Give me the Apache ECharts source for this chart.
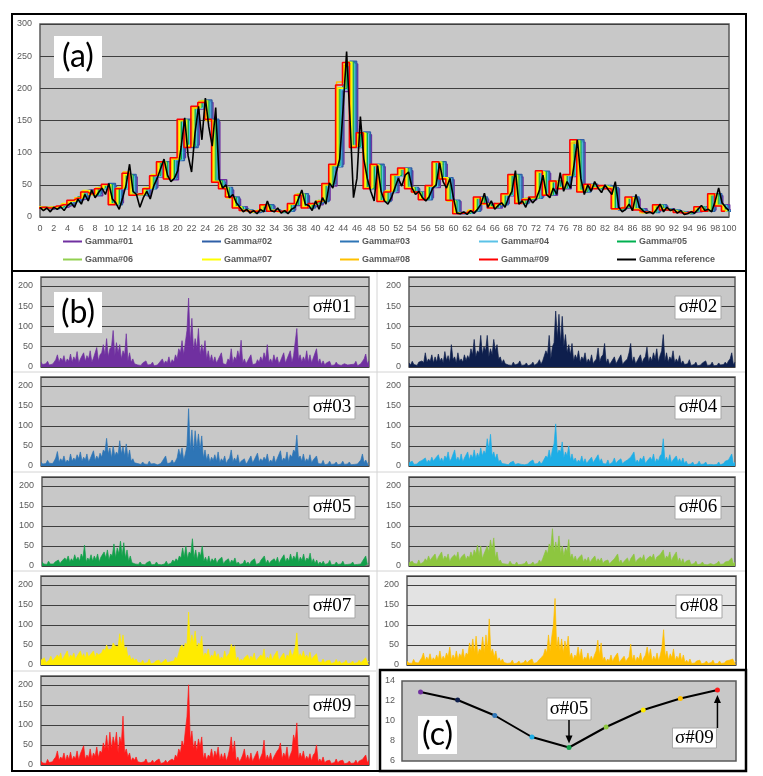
<!DOCTYPE html>
<html>
<head>
<meta charset="utf-8">
<script src="https://cdn.jsdelivr.net/npm/echarts@6/dist/echarts.min.js"></script>
<style>
  html, body { margin: 0; padding: 0; background: #fff; }
  #chart { width: 763px; height: 776px; }
</style>
</head>
<body>
<div id="chart"></div>
<script>
// ---- panel (a): gamma curves, x = 0..100 ----
const refStep = 0.5;
const gammaRef = [
  15,10,14,8,15,12,16,10,18,22, 15,28,20,35,25,42,30,38,45,35,
  52,28,22,12,30,50,82,40,35,15, 30,40,28,48,60,75,90,65,55,60,
  72,110,154,95,70,130,172,120,185,140, 110,170,60,45,50,30,35,22,15,8,
  12,6,10,5,12,8,25,10,8,14, 6,10,5,12,15,28,42,20,18,10,
  25,12,30,20,53,45,70,90,170,257, 150,30,60,156,90,60,40,25,80,40,
  25,20,30,45,60,48,65,70,45,35, 40,30,25,32,45,50,84,55,45,60,
  30,6,5,8,4,10,6,12,20,37, 15,25,12,18,22,15,30,40,72,20,
  25,15,30,22,28,42,65,35,30,45, 35,69,40,55,45,80,120,60,35,50,
  40,55,45,38,50,42,35,55,15,8, 12,20,10,35,15,10,6,8,5,12,
  20,8,15,10,12,6,10,4,5,8, 6,12,18,10,12,8,25,45,22,15,
  10
];
const gammaNames = ['Gamma#01','Gamma#02','Gamma#03','Gamma#04','Gamma#05',
                    'Gamma#06','Gamma#07','Gamma#08','Gamma#09'];
const refName = 'Gamma reference';
// lag of each gamma curve against the reference (x units)
const gammaLag = [0.6, 0.45, 0.3, 0.15, 0, -0.15, -0.3, -0.45, -0.6];

const gamma01 = [
  14,12,16,15,18,26,28,42,33,46, 48,22,44,62,36,33,46,62,82,58,
  92,148,112,168,178,148,58,42,28,16, 9,8,11,17,9,8,11,18,33,16,
  19,26,48,82,195,238,112,128,46,78, 26,38,66,72,44,36,30,46,82,58,
  24,7,6,11,28,21,14,21,33,62, 23,27,31,68,34,56,44,63,116,42,
  48,46,47,44,13,14,28,13,7,9, 17,13,9,8,7,8,14,11,33,19, 11
];
const gamma02 = [
  16,13,14,17,19,24,31,38,36,44, 52,19,46,66,34,36,44,66,86,61,
  88,152,108,172,182,152,54,46,31,14, 11,7,9,19,11,7,9,21,36,14,
  21,24,52,78,205,242,108,132,44,82, 24,41,64,76,46,39,27,49,86,61,
  26,5,7,9,31,19,16,19,36,66, 21,29,29,71,36,54,46,66,120,39,
  51,44,49,46,11,16,31,11,8,7, 19,11,11,7,5,10,16,9,36,17, 9
];
const gamma03 = [
  15,15,13,16,21,25,29,41,34,45, 51,21,45,64,35,34,45,64,84,59,
  91,150,110,170,180,151,56,44,30,15, 10,9,10,18,10,9,10,19,34,15,
  20,25,50,80,200,240,110,129,45,80, 25,40,65,74,45,37,28,48,84,59,
  25,6,6,10,29,20,15,20,35,64, 22,28,30,70,35,55,45,64,118,40,
  50,45,48,45,12,15,30,12,7,8, 18,12,10,8,6,9,15,10,35,18, 10
];
const gamma04 = [
  14,13,15,15,20,24,30,39,35,44, 49,20,44,63,35,35,44,63,84,60,
  89,149,111,169,179,149,55,45,29,15, 10,8,10,17,10,8,10,20,34,15,
  20,24,49,79,198,238,109,129,45,79, 25,39,64,74,45,38,28,47,84,60,
  25,6,6,10,30,20,15,20,34,64, 22,28,30,69,35,54,45,64,117,40,
  49,45,48,45,12,15,29,12,7,8, 18,12,10,8,6,9,15,10,34,18, 10
];
const gamma05 = [
  15,14,16,16,20,25,31,40,35,46, 50,21,45,65,35,36,45,65,85,61,
  90,150,110,171,180,150,56,45,30,15, 10,8,10,18,10,8,10,20,35,15,
  21,25,50,80,200,240,110,130,45,80, 25,40,65,75,45,38,28,48,85,60,
  25,6,6,10,30,20,15,20,35,65, 22,28,30,70,35,55,45,65,118,40,
  50,45,48,45,12,15,30,12,7,8, 18,12,10,8,6,9,15,10,35,18, 10
];
const gamma06 = [
  16,14,15,17,20,26,30,40,36,45, 50,20,46,65,35,35,46,65,85,60,
  90,151,110,170,181,150,55,46,30,15, 11,8,10,18,10,8,10,20,36,15,
  20,26,51,81,201,241,111,130,46,80, 25,40,66,75,45,38,29,48,86,60,
  25,6,7,10,30,20,15,20,35,65, 22,29,30,70,35,56,45,65,119,40,
  50,46,48,45,12,15,30,12,7,8, 18,12,10,8,6,9,15,10,35,18, 10
];
const gamma07 = [
  15,15,15,16,21,25,30,41,35,45, 50,20,45,66,35,35,45,66,86,60,
  91,150,111,170,180,150,55,45,30,16, 10,8,11,18,10,8,11,20,35,16,
  20,25,50,81,200,240,110,130,45,81, 25,41,65,75,46,38,28,48,85,61,
  25,6,6,11,30,20,15,21,35,65, 22,28,31,70,35,55,46,65,118,41,
  50,45,48,46,12,15,30,12,7,8, 18,12,10,8,6,9,15,10,35,18, 10
];
const gamma08 = [
  15,14,15,16,20,25,30,40,35,45, 50,20,45,70,35,35,45,65,85,60,
  90,150,110,170,180,150,55,45,30,15, 10,8,10,18,10,8,10,20,35,15,
  20,25,50,80,210,236,110,130,45,80, 25,40,65,75,45,38,28,48,85,60,
  25,6,6,10,30,20,15,20,35,65, 22,28,30,70,35,55,45,65,115,40,
  50,45,48,45,12,15,30,12,7,8, 18,12,10,8,6,9,15,10,35,18, 10
];
const gamma09 = [
  14,15,14,17,19,26,29,39,36,44, 51,19,44,68,34,36,44,64,86,59,
  92,152,108,172,178,152,54,44,31,14, 10,9,9,19,9,9,9,21,34,14,
  21,24,52,82,205,240,108,131,44,82, 24,39,66,76,44,39,27,49,86,59,
  26,5,6,9,31,21,14,21,36,66, 21,27,31,72,34,56,44,66,120,39,
  51,44,49,44,13,14,31,11,8,7, 19,11,11,7,6,8,16,9,36,17, 9
];
const gammaSets = [gamma01, gamma02, gamma03, gamma04, gamma05, gamma06, gamma07, gamma08, gamma09];

// ---- panel (b): error per sigma, x = 0..100 in steps of 0.5 ----
const sigmaStep = 0.5;
const sigmaNames = ['σ#01','σ#02','σ#03','σ#04','σ#05','σ#06','σ#07','σ#08','σ#09'];
const sigma01 = [
  12,6,10,8,14,5,8,7,12,18,30,12,22,15,28,10,20,14,32,12,
  25,16,38,10,20,18,35,14,28,20,40,12,22,25,48,15,30,35,55,30,
  70,25,45,50,90,28,60,35,55,20,40,30,82,15,35,12,20,8,12,5,
  8,4,10,6,15,5,8,6,12,3,6,5,10,12,20,8,15,10,25,8,
  18,12,30,20,45,35,65,30,60,90,170,60,120,40,70,45,95,30,55,35,
  65,20,40,15,30,12,25,10,18,14,35,8,12,6,20,15,45,10,25,18,
  40,22,66,10,20,8,15,12,30,6,10,8,18,12,25,14,35,20,55,12,
  20,10,30,14,25,8,15,16,35,10,20,18,40,12,28,30,95,18,30,12,
  25,15,40,12,30,10,22,20,45,10,20,6,15,5,10,7,14,4,8,5,
  12,6,10,4,6,8,12,5,8,6,10,7,14,3,6,8,12,20,32,8,
  15
];
const sigma02 = [
  10,5,14,6,8,4,12,8,15,10,35,12,20,14,30,10,25,12,32,15,
  22,10,38,16,28,12,55,18,25,10,35,14,20,12,30,16,28,20,45,30,
  68,25,40,35,78,30,50,40,78,25,45,30,68,40,55,20,25,10,18,8,
  10,5,8,4,12,5,6,8,15,4,8,5,10,3,5,6,12,4,8,10,
  18,7,15,12,40,30,78,20,50,60,138,70,130,60,125,50,80,35,55,30,
  58,15,30,20,40,12,25,18,35,10,20,12,30,8,15,20,47,12,25,30,
  58,10,20,6,12,10,25,8,15,12,30,6,12,10,20,35,58,12,25,8,
  15,12,30,10,20,25,49,12,25,15,35,20,45,12,28,40,80,15,35,12,
  25,18,40,10,20,12,28,8,15,6,10,8,18,4,8,6,12,3,6,5,
  10,6,15,4,8,5,12,3,6,4,10,5,8,6,12,7,15,20,35,6,
  12
];
const sigma03 = [
  10,5,8,6,14,7,10,6,12,20,36,10,18,12,25,8,15,10,30,12,
  20,14,28,18,35,12,22,15,30,10,18,20,38,14,25,16,32,22,40,35,
  69,30,45,20,50,25,35,28,63,30,48,25,55,20,40,12,18,8,12,6,
  8,4,10,5,6,4,12,5,8,6,10,3,5,6,12,15,25,6,10,8,
  15,6,12,20,42,25,45,15,30,50,143,40,90,35,88,45,80,40,75,20,
  40,15,30,10,22,14,28,12,35,8,18,12,25,6,15,20,40,10,20,12,
  28,6,12,8,18,5,10,12,25,8,15,14,32,10,18,12,22,15,30,8,
  15,10,25,8,18,20,38,12,20,15,35,10,28,22,40,35,77,20,25,12,
  30,10,18,12,28,8,15,12,25,6,10,5,14,3,6,5,12,4,8,5,
  10,3,6,5,12,4,8,5,10,3,5,4,8,5,10,15,30,8,15,6,
  10
];
const sigma04 = [
  8,5,12,4,6,5,10,7,14,10,20,8,15,10,22,12,18,14,28,12,
  20,10,25,18,35,12,18,15,40,14,22,12,30,10,20,18,35,15,28,20,
  40,18,32,22,45,25,38,30,68,40,79,25,35,18,30,10,15,6,10,5,
  6,3,8,5,12,4,5,6,10,4,8,3,6,5,10,8,15,5,8,6,
  12,5,10,12,25,20,40,18,42,55,105,30,40,35,60,20,35,25,50,15,
  30,12,20,8,15,10,25,8,18,6,12,10,22,8,15,12,28,10,18,6,
  10,5,15,4,8,10,20,6,12,10,18,5,10,8,15,12,22,20,35,8,
  15,8,20,14,25,6,12,10,22,14,30,8,18,12,25,30,68,12,22,10,
  28,8,15,12,25,10,18,8,20,6,12,4,8,5,10,3,6,5,12,4,
  8,5,10,3,6,4,8,3,5,4,10,3,7,6,12,8,15,18,30,5,
  10
];
const sigma05 = [
  10,5,8,4,12,5,6,5,10,7,15,6,12,10,20,14,25,10,18,12,
  28,15,22,12,30,20,52,10,20,14,28,12,25,15,30,10,22,18,35,20,
  40,15,30,25,55,20,45,30,62,25,58,20,40,12,25,8,12,5,8,4,
  10,4,6,3,8,5,12,3,5,4,10,4,8,3,6,5,12,4,8,7,
  15,10,18,12,25,20,45,22,50,18,35,30,68,20,40,15,35,25,50,12,
  22,10,25,8,18,12,20,6,15,12,22,5,12,8,18,6,15,10,20,5,
  10,4,8,6,15,5,10,4,12,8,18,4,8,7,15,12,25,6,15,6,
  12,8,18,10,22,6,15,14,28,10,20,12,30,14,25,16,35,10,22,14,
  30,10,20,15,32,8,18,6,15,4,10,5,12,4,8,6,14,3,6,4,
  10,4,8,5,12,3,5,4,8,5,10,3,6,4,8,5,12,15,25,4,
  8
];
const sigma06 = [
  8,4,12,6,10,5,15,5,8,10,18,12,25,14,20,16,30,12,22,18,
  35,15,25,18,30,10,20,16,28,20,35,12,22,18,30,15,25,20,35,22,
  40,30,52,25,50,18,30,28,50,35,65,40,70,20,35,10,15,6,10,5,
  8,4,12,5,6,3,10,3,5,4,8,6,12,3,6,5,10,4,8,7,
  15,8,18,22,40,30,55,45,93,35,60,40,75,30,50,25,45,35,66,20,
  30,15,25,12,20,16,28,10,18,12,22,8,15,14,25,10,18,12,20,6,
  12,8,15,5,10,12,18,14,30,8,15,6,12,10,20,8,18,14,30,8,
  15,12,22,16,28,10,18,15,25,20,30,12,22,18,28,25,40,15,25,20,
  35,12,22,18,35,10,20,8,18,6,12,8,15,4,8,6,12,3,6,5,
  10,4,8,3,5,6,10,3,6,7,12,4,8,5,10,6,12,12,20,5,
  10
];
const sigma07 = [
  12,8,18,6,10,12,22,10,15,14,25,18,30,12,20,22,35,15,25,20,
  30,14,22,18,35,20,28,16,32,20,25,22,35,18,30,25,28,30,40,35,
  50,38,42,40,55,48,50,45,78,50,75,35,45,20,25,12,18,10,15,6,
  10,5,12,4,8,6,15,3,6,5,10,6,12,4,8,10,15,6,10,8,
  12,10,20,15,30,45,50,40,55,50,132,50,75,55,85,40,55,50,72,20,
  30,25,40,15,25,20,35,18,28,12,20,14,35,18,25,30,52,40,48,12,
  20,8,15,10,18,14,25,12,22,16,30,10,15,12,25,20,40,10,20,14,
  28,12,22,18,35,10,18,14,30,12,25,20,38,22,30,45,80,20,28,20,
  35,18,25,15,32,12,20,18,28,8,12,6,15,5,10,6,12,4,8,6,
  14,5,10,4,8,6,12,3,6,5,10,4,8,6,12,5,10,8,18,6,
  10
];
const sigma08 = [
  10,5,8,4,14,6,10,5,12,18,30,10,20,12,28,10,18,12,25,14,
  35,12,22,14,30,20,45,12,25,15,35,12,28,20,40,15,30,25,55,35,
  65,30,72,25,40,35,70,30,75,40,115,30,40,20,35,10,18,8,15,6,
  10,4,8,5,12,3,6,5,10,4,8,6,12,5,10,8,15,4,8,6,
  12,8,20,25,40,30,75,35,70,100,166,40,70,35,65,30,60,40,72,20,
  30,12,25,20,45,18,40,10,20,14,30,10,22,12,25,35,62,25,55,12,
  20,8,15,10,25,8,18,14,30,6,12,10,22,8,15,20,52,12,25,8,
  20,14,30,8,18,25,45,20,40,10,22,12,30,10,25,45,88,20,35,12,
  28,18,40,10,22,14,30,10,25,6,12,5,15,4,8,5,10,6,12,3,
  6,5,10,4,8,6,12,3,5,4,10,4,8,5,10,6,12,8,15,6,
  10
];
const sigma09 = [
  10,5,8,4,14,6,10,8,15,20,35,12,20,15,30,10,25,14,32,12,
  22,15,35,12,28,25,48,14,25,18,40,15,30,22,45,18,35,30,55,40,
  74,35,82,40,70,50,82,30,70,55,122,30,40,20,30,10,18,12,20,8,
  12,6,10,8,15,5,8,6,12,5,10,8,15,4,8,6,12,5,10,7,
  15,10,25,18,40,30,60,45,85,120,200,60,85,40,60,35,65,45,70,15,
  30,12,25,20,40,15,35,22,45,12,28,14,30,10,22,40,70,30,60,10,
  20,8,15,25,40,12,25,10,30,8,18,14,35,10,20,30,62,12,25,14,
  30,10,20,18,35,40,55,15,30,20,45,12,25,35,75,60,105,15,30,18,
  35,12,22,14,28,10,25,30,50,8,15,8,20,5,10,6,12,4,8,6,
  15,5,10,6,12,3,6,5,10,4,8,5,12,4,10,6,14,15,25,6,
  12
];
const sigmaSets = [sigma01, sigma02, sigma03, sigma04, sigma05, sigma06, sigma07, sigma08, sigma09];

// ---- panel (c): summary value per sigma ----
const sigmaScore = [12.9, 12.1, 10.55, 8.4, 7.35, 9.4, 11.1, 12.25, 13.1];

// ---- styles / layout ----
const gammaColors = ['#7030a0','#2f5fa7','#2e75b6','#5bc2e7','#00b050','#92d050','#ffff00','#ffc000','#ff0000'];
const sigmaColors = ['#7030a0','#0e1f4d','#2e75b6','#1eaee6','#12a04a','#8dc63f','#ffeb00','#ffbf00','#ff1a1a'];
const plotGray = '#c8c8c8';
const axisFont = { fontFamily: 'Liberation Sans', fontSize: 9, color: '#595959' };
const gridLine = { color: '#3f3f3f', width: 1.2 };

const aGrid = { left: 40, top: 24, width: 689, height: 193 };
const bGrids = [
  { left: 41, top: 277, width: 328, height: 90 },
  { left: 409, top: 277, width: 326, height: 90 },
  { left: 41, top: 377, width: 328, height: 89 },
  { left: 409, top: 377, width: 326, height: 89 },
  { left: 42, top: 477, width: 327, height: 89 },
  { left: 409, top: 477, width: 326, height: 89 },
  { left: 41, top: 576, width: 328, height: 89 },
  { left: 407, top: 576, width: 329, height: 89 },
  { left: 41, top: 676, width: 328, height: 89 }
];
const cGrid = { left: 402, top: 681, width: 334, height: 80 };
const legendSlots = [
  [63, 237], [202, 237], [340, 237], [479, 237], [617, 237],
  [63, 255], [202, 255], [340, 255], [479, 255], [617, 255]
];

const chart = echarts.init(document.getElementById('chart'));

const grids = [], xAxes = [], yAxes = [], series = [], legends = [];

// panel (a)
grids.push(Object.assign({ show: true, backgroundColor: plotGray, borderColor: '#595959',
  borderWidth: 1.5, outerBoundsMode: 'none' }, aGrid));
xAxes.push({ gridIndex: 0, type: 'value', min: 0, max: 100, interval: 2,
  axisLine: { show: false }, axisTick: { show: false }, splitLine: { show: false },
  axisLabel: Object.assign({ margin: 7 }, axisFont) });
yAxes.push({ gridIndex: 0, type: 'value', min: 0, max: 300, interval: 50,
  axisLine: { show: false }, axisTick: { show: false }, splitLine: { lineStyle: gridLine },
  axisLabel: Object.assign({ margin: 8 }, axisFont) });

gammaSets.forEach((vals, k) => {
  series.push({
    name: gammaNames[k], type: 'line', xAxisIndex: 0, yAxisIndex: 0,
    data: vals.map((v, i) => [i + gammaLag[k], v]),
    step: 'middle', symbol: 'none',
    lineStyle: { color: gammaColors[k], width: 1.5 }, itemStyle: { color: gammaColors[k] }
  });
});
series.push({
  name: refName, type: 'line', xAxisIndex: 0, yAxisIndex: 0,
  data: gammaRef.map((v, i) => [i * refStep, v]), symbol: 'none',
  lineStyle: { color: '#000', width: 1.6 }, itemStyle: { color: '#000' }
});

gammaNames.concat([refName]).forEach((name, k) => {
  legends.push({
    data: [name], left: legendSlots[k][0], top: legendSlots[k][1], padding: 0,
    icon: 'rect', itemWidth: 19, itemHeight: 2, selectedMode: false,
    textStyle: { fontFamily: 'Liberation Sans', fontSize: 9, fontWeight: 'bold', color: '#595959', padding: [0, 0, 0, -2] }
  });
});

// panel (b)
sigmaSets.forEach((vals, k) => {
  const gi = k + 1;
  grids.push(Object.assign({ show: true, backgroundColor: k === 7 ? '#e3e3e3' : plotGray,
    borderColor: '#595959', borderWidth: 1.5, outerBoundsMode: 'none' }, bGrids[k]));
  xAxes.push({ gridIndex: gi, type: 'value', min: 0, max: 100,
    axisLine: { show: false }, axisTick: { show: false }, splitLine: { show: false }, axisLabel: { show: false } });
  yAxes.push({ gridIndex: gi, type: 'value', min: 0, max: 222, interval: 50,
    axisLine: { show: false }, axisTick: { show: false }, splitLine: { lineStyle: gridLine },
    axisLabel: Object.assign({ margin: 8, formatter: v => (v % 50 === 0 ? String(v) : '') }, axisFont) });
  series.push({
    name: sigmaNames[k], type: 'line', xAxisIndex: gi, yAxisIndex: gi,
    data: vals.map((v, i) => [i * sigmaStep, v]), symbol: 'none',
    lineStyle: { color: sigmaColors[k], width: 0.7 },
    areaStyle: { color: sigmaColors[k], opacity: 1 }
  });
});

// panel (c)
const cIdx = 10;
grids.push(Object.assign({ show: true, backgroundColor: plotGray, borderColor: '#595959',
  borderWidth: 1.5, outerBoundsMode: 'none' }, cGrid));
xAxes.push({ gridIndex: cIdx, type: 'category', data: sigmaNames, boundaryGap: true,
  axisLine: { show: false }, axisTick: { show: false }, axisLabel: { show: false } });
yAxes.push({ gridIndex: cIdx, type: 'value', min: 6, max: 14, interval: 2,
  axisLine: { show: false }, axisTick: { show: false }, splitLine: { show: false },
  axisLabel: Object.assign({ margin: 7 }, axisFont) });
const cSeriesIndex = series.length;
series.push({
  name: 'score', type: 'line', xAxisIndex: cIdx, yAxisIndex: cIdx,
  data: sigmaScore.map((v, i) => ({ value: v, itemStyle: { color: sigmaColors[i] } })),
  symbol: 'circle', symbolSize: 5,
  lineStyle: { color: '#000', width: 2 }
});

chart.setOption({
  animation: false,
  grid: grids, xAxis: xAxes, yAxis: yAxes, series: series, legend: legends
});

// ---- annotations ----
function labelBox(x, y, w, h, text, font, stroke) {
  return {
    type: 'group', x: x, y: y, z: 50,
    children: [
      { type: 'rect', shape: { x: 0, y: 0, width: w, height: h },
        style: { fill: '#fff', stroke: stroke || null, lineWidth: 1 } },
      { type: 'text', x: w / 2, y: h / 2,
        style: { text: text, font: font, fill: '#000', align: 'center', verticalAlign: 'middle',
                 textAlign: 'center', textVerticalAlign: 'middle' } }
    ]
  };
}
function arrow(x, y1, y2) {
  const dir = y2 > y1 ? 1 : -1;
  return [
    { type: 'line', z: 50, shape: { x1: x, y1: y1, x2: x, y2: y2 - dir * 6 }, style: { stroke: '#000', lineWidth: 1.5 } },
    { type: 'polygon', z: 50, shape: { points: [[x - 3.5, y2 - dir * 8], [x + 3.5, y2 - dir * 8], [x, y2]] }, style: { fill: '#000' } }
  ];
}

const panelFont = '32px Lato';
const sigmaFont = '19px "Liberation Serif"';
const faint = { stroke: '#d4d4d4', lineWidth: 1 };
const g = [
  // outer frames
  { type: 'rect', z: 60, shape: { x: 12, y: 14, width: 734, height: 757 }, style: { fill: null, stroke: '#000', lineWidth: 2 } },
  { type: 'line', z: 60, shape: { x1: 12, y1: 271, x2: 746, y2: 271 }, style: { stroke: '#000', lineWidth: 2 } },
  { type: 'line', z: 1, shape: { x1: 377, y1: 272, x2: 377, y2: 770 }, style: faint },
  { type: 'line', z: 1, shape: { x1: 13, y1: 372, x2: 745, y2: 372 }, style: faint },
  { type: 'line', z: 1, shape: { x1: 13, y1: 472, x2: 745, y2: 472 }, style: faint },
  { type: 'line', z: 1, shape: { x1: 13, y1: 571, x2: 745, y2: 571 }, style: faint },
  { type: 'line', z: 1, shape: { x1: 13, y1: 671, x2: 376, y2: 671 }, style: faint },
  { type: 'rect', z: 60, shape: { x: 380, y: 670, width: 366, height: 101 }, style: { fill: null, stroke: '#000', lineWidth: 2.5 } },
  labelBox(54, 36, 48, 42, '(a)', panelFont),
  labelBox(54, 292, 48, 41, '(b)', panelFont),
  labelBox(418, 716, 39, 38, '(c)', panelFont)
];
bGrids.forEach((b, k) => {
  g.push(labelBox(b.left + b.width - 60, b.top + 19, 46, 23, sigmaNames[k], sigmaFont, '#a6a6a6'));
});

const p5 = chart.convertToPixel({ seriesIndex: cSeriesIndex }, [4, sigmaScore[4]]);
const p9 = chart.convertToPixel({ seriesIndex: cSeriesIndex }, [8, sigmaScore[8]]);
g.push(labelBox(p5[0] - 22, 698, 44, 22, sigmaNames[4], sigmaFont, '#a6a6a6'));
arrow(p5[0], 720, p5[1] - 4).forEach(e => g.push(e));
g.push(labelBox(p9[0] - 45, 728, 44, 20, sigmaNames[8], sigmaFont, '#a6a6a6'));
arrow(p9[0], 728, p9[1] + 5).forEach(e => g.push(e));

chart.setOption({ graphic: { elements: g } });
</script>
</body>
</html>
